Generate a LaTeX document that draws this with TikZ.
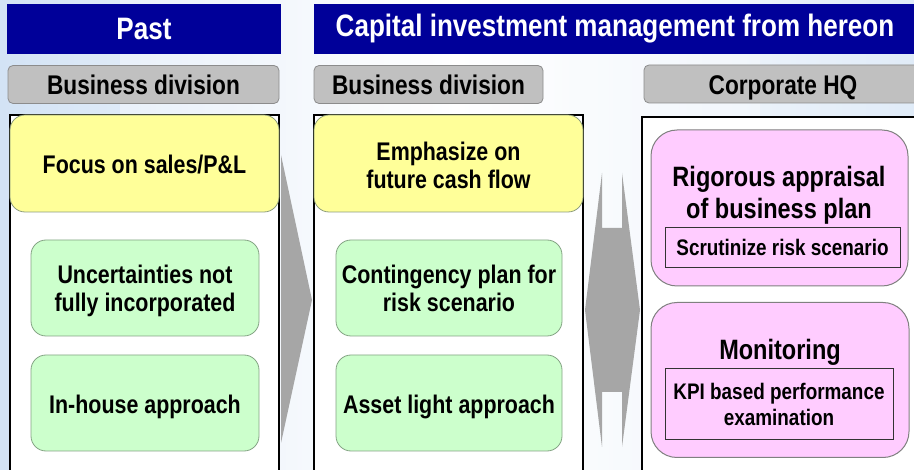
\documentclass[tikz,border=0pt]{standalone}
\usepackage{fontspec}
\setmainfont{Liberation Sans}[FakeStretch=0.84]
\usetikzlibrary{positioning}
\definecolor{hdrblue}{HTML}{000099}
\definecolor{bgblue}{HTML}{D3E3F5}
\definecolor{graybox}{HTML}{C0C0C0}
\definecolor{grayedge}{HTML}{8C8C8C}
\definecolor{yelfill}{HTML}{FFFF99}
\definecolor{yeledge}{HTML}{8C9C7C}
\definecolor{grnfill}{HTML}{CCFFCC}
\definecolor{grnedge}{HTML}{84A484}
\definecolor{pinkfill}{HTML}{FFCCFF}
\definecolor{pinkedge}{HTML}{808080}
\definecolor{arrowgray}{HTML}{A6A6A6}
% #1 = baseline offset below node centre
\newcommand{\oneline}[2]{\raisebox{-#1}[0pt][0pt]{#2}}
\newcommand{\twolines}[3]{\raisebox{-#1}[0pt][0pt]{\begin{tabular}[b]{@{}c@{}}#2\\#3\end{tabular}}}
\tikzset{
  hdr/.style={fill=hdrblue, text=white, inner sep=0pt, font=\bfseries\fontsize{31}{33}\selectfont},
  grayhdr/.style={fill=graybox, draw=grayedge, line width=0.8pt, rounded corners=5pt, inner sep=0pt, font=\bfseries\fontsize{27}{29}\selectfont},
  plaintxt/.style={inner sep=0pt, font=\bfseries\fontsize{27}{29}\selectfont},
  column/.style={fill=white, draw=black, line width=1.3pt},
  yelbox/.style={fill=yelfill, draw=yeledge, line width=0.8pt, rounded corners=15pt, inner sep=0pt, align=center, font=\bfseries\fontsize{25.5}{28}\selectfont},
  grnbox/.style={fill=grnfill, draw=grnedge, line width=0.8pt, rounded corners=15pt, inner sep=0pt, align=center, font=\bfseries\fontsize{25.5}{28}\selectfont},
  pinkbox/.style={fill=pinkfill, draw=pinkedge, line width=1pt, rounded corners=26pt, inner sep=0pt},
  inrect/.style={draw=black!80, line width=0.7pt, inner sep=0pt, align=center, font=\bfseries\fontsize{22.5}{26}\selectfont},
  bigtxt/.style={inner sep=0pt, align=center, font=\bfseries\fontsize{28}{32}\selectfont},
  arrowshape/.style={fill=arrowgray, draw=none}
}
\begin{document}
\begin{tikzpicture}[x=1pt,y=-1pt]
\useasboundingbox (0,0) rectangle (914,470);
% background
\shade[left color=bgblue, right color=bgblue!70, middle color=white] (0,0) rectangle (914,470);
\fill[white, opacity=0.35] (120,0) rectangle (760,470);

% headers
\node[hdr, minimum width=274pt, minimum height=50pt] (past) at (144,29) {Past};
\node[hdr, minimum width=602pt, minimum height=50pt] (cap) at (615,29) {Capital investment management from hereon};

% gray sub headers
\node[grayhdr, minimum width=271pt, minimum height=38pt] (bd1) at (143.5,84.5) {Business division};
\node[grayhdr, minimum width=229pt, minimum height=38pt] (bd2) at (428.5,84.5) {Business division};
\node[grayhdr, minimum width=280pt, minimum height=38pt] (hq) at (784,84) {};
\node[plaintxt, anchor=base] (hqt) at (783,94.5) {Corporate HQ};

% columns
\draw[column] (10,115) rectangle (279,480);
\draw[column] (314,115) rectangle (583,480);
\draw[column] (642,117) rectangle (920,480);

% left column
\node[yelbox, minimum width=269pt, minimum height=97pt] (y1) at (144.5,163.5) {\oneline{10.5pt}{Focus on sales/P\&L}};
\node[grnbox, minimum width=228pt, minimum height=96pt] (g1) at (145,288) {\twolines{24pt}{Uncertainties not}{fully incorporated}};
\node[grnbox, minimum width=228pt, minimum height=96pt] (g2) at (145,403) {\oneline{11pt}{In-house approach}};

% middle column
\node[yelbox, minimum width=269pt, minimum height=97pt] (y2) at (448.5,163.5) {\twolines{25.5pt}{Emphasize on}{future cash flow}};
\node[grnbox, minimum width=226pt, minimum height=96pt] (g3) at (449,288) {\twolines{24pt}{Contingency plan for}{risk scenario}};
\node[grnbox, minimum width=226pt, minimum height=96pt] (g4) at (449,403) {\oneline{11pt}{Asset light approach}};

% right column
\node[pinkbox, minimum width=257pt, minimum height=156pt] (p1) at (779.5,208) {};
\node[bigtxt, anchor=north] (t1) at (779,166) {Rigorous appraisal\\of business plan};
\node[inrect, minimum width=235pt, minimum height=40pt] (r1) at (782.5,247) {Scrutinize risk scenario};
\node[pinkbox, minimum width=258pt, minimum height=155pt] (p2) at (780,380) {};
\node[bigtxt] (t2) at (780,352) {Monitoring};
\node[inrect, minimum width=228pt, minimum height=71pt] (r2) at (779,404) {KPI based performance\\examination};

% arrows
\coordinate (a1) at (281,155);
\coordinate (a2) at (312,300);
\coordinate (a3) at (281,443);
\fill[arrowshape] (a1) -- (a2) -- (a3) -- cycle;

\fill[arrowshape] (585,310) -- (602,173) -- (602,228) -- (622,228) -- (622,173) -- (640,310)
  -- (622,447) -- (622,392) -- (602,392) -- (602,447) -- cycle;
\end{tikzpicture}
\end{document}
